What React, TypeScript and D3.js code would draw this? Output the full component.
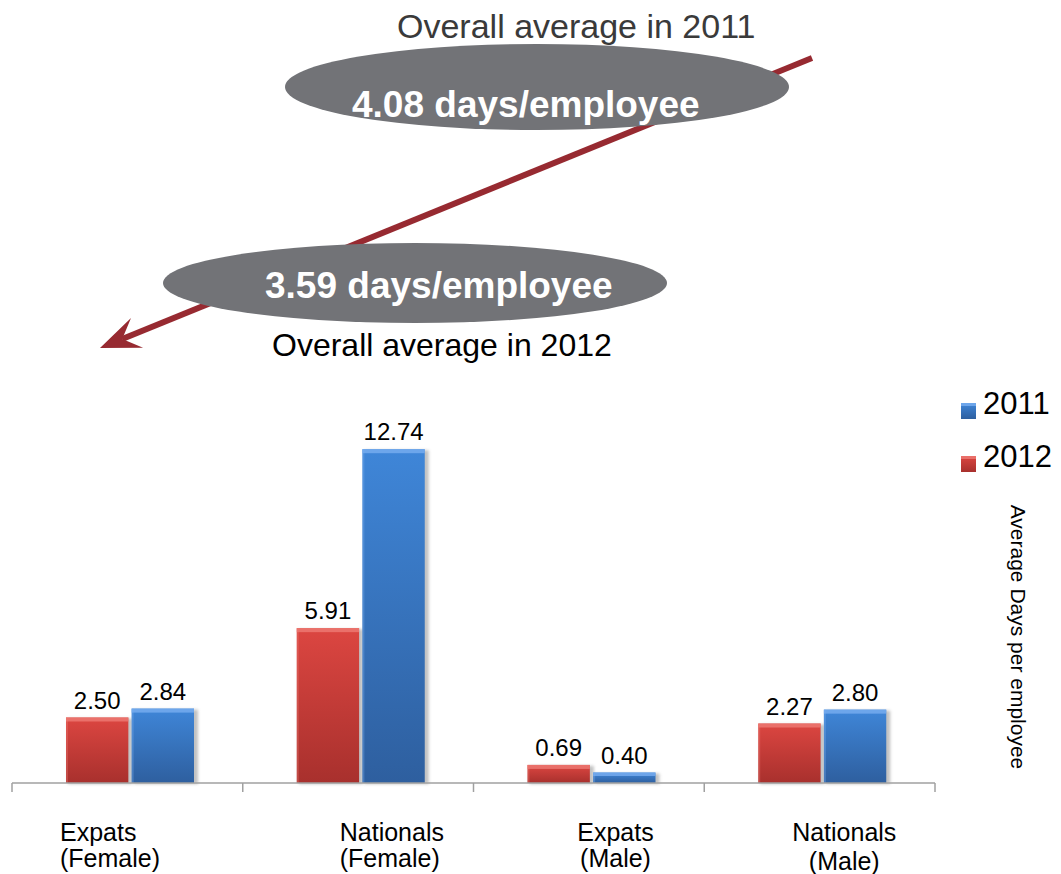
import React, { useEffect } from 'react';
import * as d3 from 'd3';

const width = 1061;
const height = 874;

// data
const categories = ['Expats (Female)', 'Nationals (Female)', 'Expats (Male)', 'Nationals (Male)'];
const categoryLines = [
  ['Expats', '(Female)'],
  ['Nationals', '(Female)'],
  ['Expats', '(Male)'],
  ['Nationals', '(Male)'],
];
const seriesKeys = ['2012', '2011'];
const values2012 = [2.5, 5.91, 0.69, 2.27];
const values2011 = [2.84, 12.74, 0.4, 2.8];
const legendKeys = ['2011', '2012'];
const overall2011 = '4.08 days/employee';
const overall2012 = '3.59 days/employee';

// label placement inside each category band (layout only)
const labelAnchor = ['start', 'start', 'middle', 'middle'];
const labelDx = [48, 97, 142, 140];

const fonts = "'Liberation Sans', Arial, Helvetica, sans-serif";

const colors: Record<string, { top: string; bottom: string; bevel: string }> = {
  '2012': { top: '#dc4641', bottom: '#a8302d', bevel: '#ee7a74' },
  '2011': { top: '#3f86d8', bottom: '#2e5f9f', bevel: '#79aef0' },
};

const App: React.FC = () => {
  useEffect(() => {
    document.body.style.margin = '0';
  }, []);

  const baseY = 783;
  const x0 = d3.scaleBand<string>().domain(categories).range([12, 935]);
  const x1 = d3.scaleBand<string>().domain(seriesKeys).range([54, 182]).paddingInner(0.05);
  const y = d3.scaleLinear().domain([0, 13]).range([baseY, baseY - 26.2 * 13]);

  const rows = categories.map((c, i) => ({
    cat: c,
    vals: [
      { key: '2012', v: values2012[i] },
      { key: '2011', v: values2011[i] },
    ],
  }));

  // arrow geometry
  const start = [812, 58];
  const tip = [100, 348];
  const dx = start[0] - tip[0];
  const dy = start[1] - tip[1];
  const len = Math.sqrt(dx * dx + dy * dy);
  const ux = dx / len;
  const uy = dy / len;
  const nx = -uy;
  const ny = ux;
  const headL = 40;
  const headW = 16;
  const notch = 24;
  const back = [tip[0] + ux * headL, tip[1] + uy * headL];
  const notchPt = [tip[0] + ux * notch, tip[1] + uy * notch];
  const headPath = d3.path();
  headPath.moveTo(tip[0], tip[1]);
  headPath.lineTo(back[0] + nx * headW, back[1] + ny * headW);
  headPath.lineTo(notchPt[0], notchPt[1]);
  headPath.lineTo(back[0] - nx * headW, back[1] - ny * headW);
  headPath.closePath();

  const ticks = [...categories.map(c => x0(c) as number), 935];

  return (
    <svg
      width={width}
      height={height}
      style={{ position: 'absolute', top: 0, left: 0, background: '#fff' }}
      fontFamily={fonts}
    >
      <defs>
        {seriesKeys.map(k => (
          <linearGradient key={k} id={`grad${k}`} x1="0" y1="0" x2="0" y2="1">
            <stop offset="0%" stopColor={colors[k].top} />
            <stop offset="100%" stopColor={colors[k].bottom} />
          </linearGradient>
        ))}
        <filter id="shadow" x="-20%" y="-20%" width="140%" height="140%">
          <feGaussianBlur stdDeviation="1.6" />
        </filter>
      </defs>

      {/* arrow behind the ellipses */}
      <line
        x1={start[0]}
        y1={start[1]}
        x2={notchPt[0]}
        y2={notchPt[1]}
        stroke="#972a31"
        strokeWidth={6}
      />
      <path d={headPath.toString()} fill="#972a31" />

      <text x={397} y={38} fontSize={34} fill="#3a3a3a">
        Overall average in 2011
      </text>
      <ellipse cx={537} cy={87} rx={252} ry={43} fill="#727377" />
      <text x={352} y={117} fontSize={37} fontWeight="bold" fill="#fff">
        {overall2011}
      </text>

      <ellipse cx={415} cy={283} rx={252} ry={40} fill="#727377" />
      <text x={265} y={298} fontSize={37} fontWeight="bold" fill="#fff">
        {overall2012}
      </text>
      <text x={272} y={356} fontSize={32} fill="#000">
        Overall average in 2012
      </text>

      {/* bars */}
      {rows.map(r => (
        <g key={r.cat} transform={`translate(${x0(r.cat)},0)`}>
          {r.vals.map(d => {
            const bx = x1(d.key) as number;
            const bw = x1.bandwidth();
            const top = y(d.v);
            const h = baseY - top;
            const bev = Math.min(4, h / 3);
            return (
              <g key={d.key}>
                <rect x={bx + 2} y={top + 1} width={bw + 2} height={h} fill="#9a9a9a" opacity={0.6} filter="url(#shadow)" />
                <rect x={bx} y={top} width={bw} height={h} fill={`url(#grad${d.key})`} />
                <rect x={bx} y={top} width={bw} height={bev} fill={colors[d.key].bevel} opacity={0.8} />
                <rect x={bx} y={top} width={2} height={h} fill={colors[d.key].bevel} opacity={0.35} />
                <text
                  x={bx + bw / 2}
                  y={top - 9}
                  textAnchor="middle"
                  fontSize={24}
                  fill="#000"
                >
                  {d.v.toFixed(2)}
                </text>
              </g>
            );
          })}
        </g>
      ))}

      {/* axis */}
      <line x1={12} x2={935} y1={baseY} y2={baseY} stroke="#a0a0a0" strokeWidth={1.5} />
      {ticks.map((t, i) => (
        <line key={i} x1={t} x2={t} y1={baseY} y2={baseY + 9} stroke="#a0a0a0" strokeWidth={1.5} />
      ))}

      {categories.map((c, i) => (
        <text
          key={c}
          x={(x0(c) as number) + labelDx[i]}
          y={841}
          fontSize={25}
          fill="#000"
          textAnchor={labelAnchor[i]}
        >
          {categoryLines[i].map((line, j) => (
            <tspan key={j} x={(x0(c) as number) + labelDx[i]} dy={j === 0 ? 0 : i === 3 ? 29 : 26}>
              {line}
            </tspan>
          ))}
        </text>
      ))}

      {/* legend */}
      {legendKeys.map((k, i) => (
        <g key={k} transform={`translate(961,${403 + i * 53})`}>
          <rect x={0} y={0} width={15} height={16} fill={`url(#grad${k})`} />
          <rect x={0} y={0} width={15} height={3} fill={colors[k].bevel} opacity={0.8} />
          <text x={22} y={11} fontSize={31} fill="#000">
            {k}
          </text>
        </g>
      ))}

      <text
        transform="translate(1011,637) rotate(90)"
        textAnchor="middle"
        fontSize={21}
        fill="#000"
      >
        Average Days per employee
      </text>
    </svg>
  );
};

export default App;
